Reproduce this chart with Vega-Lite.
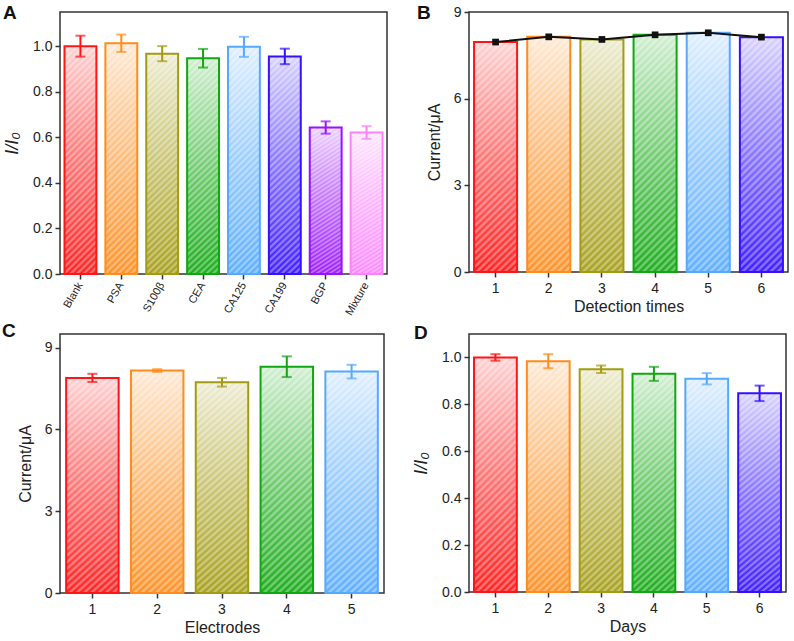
{
  "$schema": "https://vega.github.io/schema/vega-lite/v6.json",
  "padding": {"left": 1, "top": 2, "right": 2, "bottom": 2},
  "background": "white",
  "bounds": "flush",
  "columns": 2,
  "spacing": {"row": 60, "column": 82},
  "config": {
    "font": "Liberation Sans",
    "view": {"stroke": "#333", "strokeWidth": 1.5},
    "axis": {"labelFont": "Liberation Sans", "labelFontSize": 14, "labelColor": "#222", "titleFont": "Liberation Sans", "titleFontSize": 16, "titleFontWeight": "normal", "titleColor": "#222", "tickColor": "#333", "tickWidth": 1.5, "tickSize": 5, "domain": false, "grid": false, "labelPadding": 3},
    "axisX": {"titlePadding": 3, "labelPadding": 4},
    "axisY": {"titlePadding": 11},
    "title": {"anchor": "start", "frame": "group", "fontSize": 19, "fontWeight": "bold", "font": "Liberation Sans", "color": "#111", "baseline": "alphabetic"}
  },
  "datasets": {
    "A": [
      {"k": "Blank", "v": 1.0, "e": 0.046},
      {"k": "PSA", "v": 1.013, "e": 0.038},
      {"k": "S100β", "v": 0.967, "e": 0.033},
      {"k": "CEA", "v": 0.947, "e": 0.041},
      {"k": "CA125", "v": 0.997, "e": 0.044},
      {"k": "CA199", "v": 0.955, "e": 0.034},
      {"k": "BGP", "v": 0.643, "e": 0.027},
      {"k": "Mixture", "v": 0.621, "e": 0.028}
    ],
    "B": [
      {"k": "1", "v": 7.96},
      {"k": "2", "v": 8.14},
      {"k": "3", "v": 8.05},
      {"k": "4", "v": 8.21},
      {"k": "5", "v": 8.28},
      {"k": "6", "v": 8.13}
    ],
    "C": [
      {"k": "1", "v": 7.89, "e": 0.15},
      {"k": "2", "v": 8.16, "e": 0.05},
      {"k": "3", "v": 7.73, "e": 0.16},
      {"k": "4", "v": 8.3, "e": 0.38},
      {"k": "5", "v": 8.12, "e": 0.25}
    ],
    "D": [
      {"k": "1", "v": 1.0, "e": 0.014},
      {"k": "2", "v": 0.984, "e": 0.03},
      {"k": "3", "v": 0.95, "e": 0.016},
      {"k": "4", "v": 0.93, "e": 0.03},
      {"k": "5", "v": 0.909, "e": 0.024},
      {"k": "6", "v": 0.847, "e": 0.033}
    ]
  },
  "concat": [
    {
      "width": 327, "height": 262,
      "title": {"text": "A", "dx": -57, "offset": -10.5},
      "data": {"name": "A"},
      "encoding": {
        "x": {"field": "k", "type": "nominal", "sort": null, "scale": {"paddingInner": 0.22, "paddingOuter": 0.11}, "axis": {"title": null, "labelAngle": -60, "labelFontSize": 11, "labelAlign": "right", "labelBaseline": "middle", "bandPosition": 0.5}},
        "y": {"field": "v", "type": "quantitative", "scale": {"domain": [0, 1.15], "nice": false}, "axis": {"title": "I/I₀", "titleFontStyle": "italic", "titleFontSize": 18, "values": [0, 0.2, 0.4, 0.6, 0.8, 1.0], "format": ".1f"}}
      },
      "layer": [
        {"mark": {"type": "bar"}, "encoding": {"color": {"field": "k", "type": "nominal", "sort": null, "scale": {"domain": ["Blank", "PSA", "S100β", "CEA", "CA125", "CA199", "BGP", "Mixture"], "range": ["#FF1515", "#FF8C1C", "#A39B12", "#10A810", "#55AAFF", "#3311FF", "#9911FF", "#FF80FF"]}, "legend": null}}},
        {"mark": {"type": "bar", "fill": {"gradient": "linear", "x1": 0, "y1": 1, "x2": 0, "y2": 0, "stops": [{"offset": 0, "color": "rgba(255,255,255,0)"}, {"offset": 0.5, "color": "rgba(255,255,255,0.38)"}, {"offset": 1, "color": "rgba(255,255,255,0.8)"}]}}},
        {"mark": {"type": "bar", "fill": {"gradient": "linear", "x1": 0, "y1": 0, "x2": 0.157, "y2": 1.118, "stops": [
        {"offset":0,"color":"rgba(255,255,255,0.45)"},{"offset":0.0125,"color":"rgba(255,255,255,0)"},{"offset":0.025,"color":"rgba(255,255,255,0.45)"},{"offset":0.0375,"color":"rgba(255,255,255,0)"},{"offset":0.05,"color":"rgba(255,255,255,0.45)"},{"offset":0.0625,"color":"rgba(255,255,255,0)"},{"offset":0.075,"color":"rgba(255,255,255,0.45)"},{"offset":0.0875,"color":"rgba(255,255,255,0)"},{"offset":0.1,"color":"rgba(255,255,255,0.45)"},{"offset":0.1125,"color":"rgba(255,255,255,0)"},{"offset":0.125,"color":"rgba(255,255,255,0.45)"},{"offset":0.1375,"color":"rgba(255,255,255,0)"},{"offset":0.15,"color":"rgba(255,255,255,0.45)"},{"offset":0.1625,"color":"rgba(255,255,255,0)"},{"offset":0.175,"color":"rgba(255,255,255,0.45)"},{"offset":0.1875,"color":"rgba(255,255,255,0)"},{"offset":0.2,"color":"rgba(255,255,255,0.45)"},{"offset":0.2125,"color":"rgba(255,255,255,0)"},{"offset":0.225,"color":"rgba(255,255,255,0.45)"},{"offset":0.2375,"color":"rgba(255,255,255,0)"},{"offset":0.25,"color":"rgba(255,255,255,0.45)"},{"offset":0.2625,"color":"rgba(255,255,255,0)"},{"offset":0.275,"color":"rgba(255,255,255,0.45)"},{"offset":0.2875,"color":"rgba(255,255,255,0)"},{"offset":0.3,"color":"rgba(255,255,255,0.45)"},{"offset":0.3125,"color":"rgba(255,255,255,0)"},{"offset":0.325,"color":"rgba(255,255,255,0.45)"},{"offset":0.3375,"color":"rgba(255,255,255,0)"},{"offset":0.35,"color":"rgba(255,255,255,0.45)"},{"offset":0.3625,"color":"rgba(255,255,255,0)"},{"offset":0.375,"color":"rgba(255,255,255,0.45)"},{"offset":0.3875,"color":"rgba(255,255,255,0)"},{"offset":0.4,"color":"rgba(255,255,255,0.45)"},{"offset":0.4125,"color":"rgba(255,255,255,0)"},{"offset":0.425,"color":"rgba(255,255,255,0.45)"},{"offset":0.4375,"color":"rgba(255,255,255,0)"},{"offset":0.45,"color":"rgba(255,255,255,0.45)"},{"offset":0.4625,"color":"rgba(255,255,255,0)"},{"offset":0.475,"color":"rgba(255,255,255,0.45)"},{"offset":0.4875,"color":"rgba(255,255,255,0)"},{"offset":0.5,"color":"rgba(255,255,255,0.45)"},{"offset":0.5125,"color":"rgba(255,255,255,0)"},{"offset":0.525,"color":"rgba(255,255,255,0.45)"},{"offset":0.5375,"color":"rgba(255,255,255,0)"},{"offset":0.55,"color":"rgba(255,255,255,0.45)"},{"offset":0.5625,"color":"rgba(255,255,255,0)"},{"offset":0.575,"color":"rgba(255,255,255,0.45)"},{"offset":0.5875,"color":"rgba(255,255,255,0)"},{"offset":0.6,"color":"rgba(255,255,255,0.45)"},{"offset":0.6125,"color":"rgba(255,255,255,0)"},{"offset":0.625,"color":"rgba(255,255,255,0.45)"},{"offset":0.6375,"color":"rgba(255,255,255,0)"},{"offset":0.65,"color":"rgba(255,255,255,0.45)"},{"offset":0.6625,"color":"rgba(255,255,255,0)"},{"offset":0.675,"color":"rgba(255,255,255,0.45)"},{"offset":0.6875,"color":"rgba(255,255,255,0)"},{"offset":0.7,"color":"rgba(255,255,255,0.45)"},{"offset":0.7125,"color":"rgba(255,255,255,0)"},{"offset":0.725,"color":"rgba(255,255,255,0.45)"},{"offset":0.7375,"color":"rgba(255,255,255,0)"},{"offset":0.75,"color":"rgba(255,255,255,0.45)"},{"offset":0.7625,"color":"rgba(255,255,255,0)"},{"offset":0.775,"color":"rgba(255,255,255,0.45)"},{"offset":0.7875,"color":"rgba(255,255,255,0)"},{"offset":0.8,"color":"rgba(255,255,255,0.45)"},{"offset":0.8125,"color":"rgba(255,255,255,0)"},{"offset":0.825,"color":"rgba(255,255,255,0.45)"},{"offset":0.8375,"color":"rgba(255,255,255,0)"},{"offset":0.85,"color":"rgba(255,255,255,0.45)"},{"offset":0.8625,"color":"rgba(255,255,255,0)"},{"offset":0.875,"color":"rgba(255,255,255,0.45)"},{"offset":0.8875,"color":"rgba(255,255,255,0)"},{"offset":0.9,"color":"rgba(255,255,255,0.45)"},{"offset":0.9125,"color":"rgba(255,255,255,0)"},{"offset":0.925,"color":"rgba(255,255,255,0.45)"},{"offset":0.9375,"color":"rgba(255,255,255,0)"},{"offset":0.95,"color":"rgba(255,255,255,0.45)"},{"offset":0.9625,"color":"rgba(255,255,255,0)"},{"offset":0.975,"color":"rgba(255,255,255,0.45)"},{"offset":0.9875,"color":"rgba(255,255,255,0)"},{"offset":1,"color":"rgba(255,255,255,0.45)"}
        ]}}},
        {"mark": {"type": "bar", "filled": false, "strokeWidth": 2}, "encoding": {"color": {"field": "k", "type": "nominal", "sort": null, "legend": null}}},
        {"mark": {"type": "errorbar", "ticks": true, "size": 10, "thickness": 2}, "encoding": {"yError": {"field": "e"}, "color": {"field": "k", "type": "nominal", "sort": null, "legend": null}}}
      ]
    },
    {
      "width": 319, "height": 260,
      "title": {"text": "B", "dx": -52, "offset": -18},
      "data": {"name": "B"},
      "encoding": {
        "x": {"field": "k", "type": "ordinal", "sort": null, "scale": {"paddingInner": 0.19, "paddingOuter": 0.095}, "axis": {"title": "Detection times", "labelAngle": 0, "bandPosition": 0.5}},
        "y": {"field": "v", "type": "quantitative", "scale": {"domain": [0, 9], "nice": false}, "axis": {"title": "Current/μA", "values": [0, 3, 6, 9]}}
      },
      "layer": [
        {"mark": {"type": "bar"}, "encoding": {"color": {"field": "k", "type": "ordinal", "sort": null, "scale": {"domain": ["1", "2", "3", "4", "5", "6"], "range": ["#FF1515", "#FF8C1C", "#A39B12", "#10A810", "#55AAFF", "#3311FF"]}, "legend": null}}},
        {"mark": {"type": "bar", "fill": {"gradient": "linear", "x1": 0, "y1": 1, "x2": 0, "y2": 0, "stops": [{"offset": 0, "color": "rgba(255,255,255,0)"}, {"offset": 0.5, "color": "rgba(255,255,255,0.38)"}, {"offset": 1, "color": "rgba(255,255,255,0.8)"}]}}},
        {"mark": {"type": "bar", "fill": {"gradient": "linear", "x1": 0, "y1": 0, "x2": 0.21, "y2": 1.15, "stops": [
        {"offset":0,"color":"rgba(255,255,255,0.45)"},{"offset":0.0125,"color":"rgba(255,255,255,0)"},{"offset":0.025,"color":"rgba(255,255,255,0.45)"},{"offset":0.0375,"color":"rgba(255,255,255,0)"},{"offset":0.05,"color":"rgba(255,255,255,0.45)"},{"offset":0.0625,"color":"rgba(255,255,255,0)"},{"offset":0.075,"color":"rgba(255,255,255,0.45)"},{"offset":0.0875,"color":"rgba(255,255,255,0)"},{"offset":0.1,"color":"rgba(255,255,255,0.45)"},{"offset":0.1125,"color":"rgba(255,255,255,0)"},{"offset":0.125,"color":"rgba(255,255,255,0.45)"},{"offset":0.1375,"color":"rgba(255,255,255,0)"},{"offset":0.15,"color":"rgba(255,255,255,0.45)"},{"offset":0.1625,"color":"rgba(255,255,255,0)"},{"offset":0.175,"color":"rgba(255,255,255,0.45)"},{"offset":0.1875,"color":"rgba(255,255,255,0)"},{"offset":0.2,"color":"rgba(255,255,255,0.45)"},{"offset":0.2125,"color":"rgba(255,255,255,0)"},{"offset":0.225,"color":"rgba(255,255,255,0.45)"},{"offset":0.2375,"color":"rgba(255,255,255,0)"},{"offset":0.25,"color":"rgba(255,255,255,0.45)"},{"offset":0.2625,"color":"rgba(255,255,255,0)"},{"offset":0.275,"color":"rgba(255,255,255,0.45)"},{"offset":0.2875,"color":"rgba(255,255,255,0)"},{"offset":0.3,"color":"rgba(255,255,255,0.45)"},{"offset":0.3125,"color":"rgba(255,255,255,0)"},{"offset":0.325,"color":"rgba(255,255,255,0.45)"},{"offset":0.3375,"color":"rgba(255,255,255,0)"},{"offset":0.35,"color":"rgba(255,255,255,0.45)"},{"offset":0.3625,"color":"rgba(255,255,255,0)"},{"offset":0.375,"color":"rgba(255,255,255,0.45)"},{"offset":0.3875,"color":"rgba(255,255,255,0)"},{"offset":0.4,"color":"rgba(255,255,255,0.45)"},{"offset":0.4125,"color":"rgba(255,255,255,0)"},{"offset":0.425,"color":"rgba(255,255,255,0.45)"},{"offset":0.4375,"color":"rgba(255,255,255,0)"},{"offset":0.45,"color":"rgba(255,255,255,0.45)"},{"offset":0.4625,"color":"rgba(255,255,255,0)"},{"offset":0.475,"color":"rgba(255,255,255,0.45)"},{"offset":0.4875,"color":"rgba(255,255,255,0)"},{"offset":0.5,"color":"rgba(255,255,255,0.45)"},{"offset":0.5125,"color":"rgba(255,255,255,0)"},{"offset":0.525,"color":"rgba(255,255,255,0.45)"},{"offset":0.5375,"color":"rgba(255,255,255,0)"},{"offset":0.55,"color":"rgba(255,255,255,0.45)"},{"offset":0.5625,"color":"rgba(255,255,255,0)"},{"offset":0.575,"color":"rgba(255,255,255,0.45)"},{"offset":0.5875,"color":"rgba(255,255,255,0)"},{"offset":0.6,"color":"rgba(255,255,255,0.45)"},{"offset":0.6125,"color":"rgba(255,255,255,0)"},{"offset":0.625,"color":"rgba(255,255,255,0.45)"},{"offset":0.6375,"color":"rgba(255,255,255,0)"},{"offset":0.65,"color":"rgba(255,255,255,0.45)"},{"offset":0.6625,"color":"rgba(255,255,255,0)"},{"offset":0.675,"color":"rgba(255,255,255,0.45)"},{"offset":0.6875,"color":"rgba(255,255,255,0)"},{"offset":0.7,"color":"rgba(255,255,255,0.45)"},{"offset":0.7125,"color":"rgba(255,255,255,0)"},{"offset":0.725,"color":"rgba(255,255,255,0.45)"},{"offset":0.7375,"color":"rgba(255,255,255,0)"},{"offset":0.75,"color":"rgba(255,255,255,0.45)"},{"offset":0.7625,"color":"rgba(255,255,255,0)"},{"offset":0.775,"color":"rgba(255,255,255,0.45)"},{"offset":0.7875,"color":"rgba(255,255,255,0)"},{"offset":0.8,"color":"rgba(255,255,255,0.45)"},{"offset":0.8125,"color":"rgba(255,255,255,0)"},{"offset":0.825,"color":"rgba(255,255,255,0.45)"},{"offset":0.8375,"color":"rgba(255,255,255,0)"},{"offset":0.85,"color":"rgba(255,255,255,0.45)"},{"offset":0.8625,"color":"rgba(255,255,255,0)"},{"offset":0.875,"color":"rgba(255,255,255,0.45)"},{"offset":0.8875,"color":"rgba(255,255,255,0)"},{"offset":0.9,"color":"rgba(255,255,255,0.45)"},{"offset":0.9125,"color":"rgba(255,255,255,0)"},{"offset":0.925,"color":"rgba(255,255,255,0.45)"},{"offset":0.9375,"color":"rgba(255,255,255,0)"},{"offset":0.95,"color":"rgba(255,255,255,0.45)"},{"offset":0.9625,"color":"rgba(255,255,255,0)"},{"offset":0.975,"color":"rgba(255,255,255,0.45)"},{"offset":0.9875,"color":"rgba(255,255,255,0)"},{"offset":1,"color":"rgba(255,255,255,0.45)"}
        ]}}},
        {"mark": {"type": "bar", "filled": false, "strokeWidth": 2}, "encoding": {"color": {"field": "k", "type": "ordinal", "sort": null, "legend": null}}},
        {"mark": {"type": "line", "color": "#111", "strokeWidth": 2}},
        {"mark": {"type": "point", "shape": "square", "filled": true, "color": "#111", "size": 45, "opacity": 1}}
      ]
    },
    {
      "width": 324, "height": 259,
      "title": {"text": "C", "dx": -58, "offset": -7},
      "data": {"name": "C"},
      "encoding": {
        "x": {"field": "k", "type": "ordinal", "sort": null, "scale": {"paddingInner": 0.19, "paddingOuter": 0.095}, "axis": {"title": "Electrodes", "labelAngle": 0, "bandPosition": 0.5}},
        "y": {"field": "v", "type": "quantitative", "scale": {"domain": [0, 9.5], "nice": false}, "axis": {"title": "Current/μA", "values": [0, 3, 6, 9]}}
      },
      "layer": [
        {"mark": {"type": "bar"}, "encoding": {"color": {"field": "k", "type": "ordinal", "sort": null, "scale": {"domain": ["1", "2", "3", "4", "5"], "range": ["#FF1515", "#FF8C1C", "#A39B12", "#10A810", "#55AAFF"]}, "legend": null}}},
        {"mark": {"type": "bar", "fill": {"gradient": "linear", "x1": 0, "y1": 1, "x2": 0, "y2": 0, "stops": [{"offset": 0, "color": "rgba(255,255,255,0)"}, {"offset": 0.5, "color": "rgba(255,255,255,0.38)"}, {"offset": 1, "color": "rgba(255,255,255,0.8)"}]}}},
        {"mark": {"type": "bar", "fill": {"gradient": "linear", "x1": 0, "y1": 0, "x2": 0.26, "y2": 1.17, "stops": [
        {"offset":0,"color":"rgba(255,255,255,0.45)"},{"offset":0.0125,"color":"rgba(255,255,255,0)"},{"offset":0.025,"color":"rgba(255,255,255,0.45)"},{"offset":0.0375,"color":"rgba(255,255,255,0)"},{"offset":0.05,"color":"rgba(255,255,255,0.45)"},{"offset":0.0625,"color":"rgba(255,255,255,0)"},{"offset":0.075,"color":"rgba(255,255,255,0.45)"},{"offset":0.0875,"color":"rgba(255,255,255,0)"},{"offset":0.1,"color":"rgba(255,255,255,0.45)"},{"offset":0.1125,"color":"rgba(255,255,255,0)"},{"offset":0.125,"color":"rgba(255,255,255,0.45)"},{"offset":0.1375,"color":"rgba(255,255,255,0)"},{"offset":0.15,"color":"rgba(255,255,255,0.45)"},{"offset":0.1625,"color":"rgba(255,255,255,0)"},{"offset":0.175,"color":"rgba(255,255,255,0.45)"},{"offset":0.1875,"color":"rgba(255,255,255,0)"},{"offset":0.2,"color":"rgba(255,255,255,0.45)"},{"offset":0.2125,"color":"rgba(255,255,255,0)"},{"offset":0.225,"color":"rgba(255,255,255,0.45)"},{"offset":0.2375,"color":"rgba(255,255,255,0)"},{"offset":0.25,"color":"rgba(255,255,255,0.45)"},{"offset":0.2625,"color":"rgba(255,255,255,0)"},{"offset":0.275,"color":"rgba(255,255,255,0.45)"},{"offset":0.2875,"color":"rgba(255,255,255,0)"},{"offset":0.3,"color":"rgba(255,255,255,0.45)"},{"offset":0.3125,"color":"rgba(255,255,255,0)"},{"offset":0.325,"color":"rgba(255,255,255,0.45)"},{"offset":0.3375,"color":"rgba(255,255,255,0)"},{"offset":0.35,"color":"rgba(255,255,255,0.45)"},{"offset":0.3625,"color":"rgba(255,255,255,0)"},{"offset":0.375,"color":"rgba(255,255,255,0.45)"},{"offset":0.3875,"color":"rgba(255,255,255,0)"},{"offset":0.4,"color":"rgba(255,255,255,0.45)"},{"offset":0.4125,"color":"rgba(255,255,255,0)"},{"offset":0.425,"color":"rgba(255,255,255,0.45)"},{"offset":0.4375,"color":"rgba(255,255,255,0)"},{"offset":0.45,"color":"rgba(255,255,255,0.45)"},{"offset":0.4625,"color":"rgba(255,255,255,0)"},{"offset":0.475,"color":"rgba(255,255,255,0.45)"},{"offset":0.4875,"color":"rgba(255,255,255,0)"},{"offset":0.5,"color":"rgba(255,255,255,0.45)"},{"offset":0.5125,"color":"rgba(255,255,255,0)"},{"offset":0.525,"color":"rgba(255,255,255,0.45)"},{"offset":0.5375,"color":"rgba(255,255,255,0)"},{"offset":0.55,"color":"rgba(255,255,255,0.45)"},{"offset":0.5625,"color":"rgba(255,255,255,0)"},{"offset":0.575,"color":"rgba(255,255,255,0.45)"},{"offset":0.5875,"color":"rgba(255,255,255,0)"},{"offset":0.6,"color":"rgba(255,255,255,0.45)"},{"offset":0.6125,"color":"rgba(255,255,255,0)"},{"offset":0.625,"color":"rgba(255,255,255,0.45)"},{"offset":0.6375,"color":"rgba(255,255,255,0)"},{"offset":0.65,"color":"rgba(255,255,255,0.45)"},{"offset":0.6625,"color":"rgba(255,255,255,0)"},{"offset":0.675,"color":"rgba(255,255,255,0.45)"},{"offset":0.6875,"color":"rgba(255,255,255,0)"},{"offset":0.7,"color":"rgba(255,255,255,0.45)"},{"offset":0.7125,"color":"rgba(255,255,255,0)"},{"offset":0.725,"color":"rgba(255,255,255,0.45)"},{"offset":0.7375,"color":"rgba(255,255,255,0)"},{"offset":0.75,"color":"rgba(255,255,255,0.45)"},{"offset":0.7625,"color":"rgba(255,255,255,0)"},{"offset":0.775,"color":"rgba(255,255,255,0.45)"},{"offset":0.7875,"color":"rgba(255,255,255,0)"},{"offset":0.8,"color":"rgba(255,255,255,0.45)"},{"offset":0.8125,"color":"rgba(255,255,255,0)"},{"offset":0.825,"color":"rgba(255,255,255,0.45)"},{"offset":0.8375,"color":"rgba(255,255,255,0)"},{"offset":0.85,"color":"rgba(255,255,255,0.45)"},{"offset":0.8625,"color":"rgba(255,255,255,0)"},{"offset":0.875,"color":"rgba(255,255,255,0.45)"},{"offset":0.8875,"color":"rgba(255,255,255,0)"},{"offset":0.9,"color":"rgba(255,255,255,0.45)"},{"offset":0.9125,"color":"rgba(255,255,255,0)"},{"offset":0.925,"color":"rgba(255,255,255,0.45)"},{"offset":0.9375,"color":"rgba(255,255,255,0)"},{"offset":0.95,"color":"rgba(255,255,255,0.45)"},{"offset":0.9625,"color":"rgba(255,255,255,0)"},{"offset":0.975,"color":"rgba(255,255,255,0.45)"},{"offset":0.9875,"color":"rgba(255,255,255,0)"},{"offset":1,"color":"rgba(255,255,255,0.45)"}
        ]}}},
        {"mark": {"type": "bar", "filled": false, "strokeWidth": 2}, "encoding": {"color": {"field": "k", "type": "ordinal", "sort": null, "legend": null}}},
        {"mark": {"type": "errorbar", "ticks": true, "size": 10, "thickness": 2}, "encoding": {"yError": {"field": "e"}, "color": {"field": "k", "type": "ordinal", "sort": null, "legend": null}}}
      ]
    },
    {
      "width": 317, "height": 258,
      "title": {"text": "D", "dx": -55, "offset": -9},
      "data": {"name": "D"},
      "encoding": {
        "x": {"field": "k", "type": "ordinal", "sort": null, "scale": {"paddingInner": 0.19, "paddingOuter": 0.095}, "axis": {"title": "Days", "labelAngle": 0, "bandPosition": 0.5}},
        "y": {"field": "v", "type": "quantitative", "scale": {"domain": [0, 1.1], "nice": false}, "axis": {"title": "I/I₀", "titleFontStyle": "italic", "titleFontSize": 18, "values": [0, 0.2, 0.4, 0.6, 0.8, 1.0], "format": ".1f"}}
      },
      "layer": [
        {"mark": {"type": "bar"}, "encoding": {"color": {"field": "k", "type": "ordinal", "sort": null, "scale": {"domain": ["1", "2", "3", "4", "5", "6"], "range": ["#FF1515", "#FF8C1C", "#A39B12", "#10A810", "#55AAFF", "#3311FF"]}, "legend": null}}},
        {"mark": {"type": "bar", "fill": {"gradient": "linear", "x1": 0, "y1": 1, "x2": 0, "y2": 0, "stops": [{"offset": 0, "color": "rgba(255,255,255,0)"}, {"offset": 0.5, "color": "rgba(255,255,255,0.38)"}, {"offset": 1, "color": "rgba(255,255,255,0.8)"}]}}},
        {"mark": {"type": "bar", "fill": {"gradient": "linear", "x1": 0, "y1": 0, "x2": 0.21, "y2": 1.15, "stops": [
        {"offset":0,"color":"rgba(255,255,255,0.45)"},{"offset":0.0125,"color":"rgba(255,255,255,0)"},{"offset":0.025,"color":"rgba(255,255,255,0.45)"},{"offset":0.0375,"color":"rgba(255,255,255,0)"},{"offset":0.05,"color":"rgba(255,255,255,0.45)"},{"offset":0.0625,"color":"rgba(255,255,255,0)"},{"offset":0.075,"color":"rgba(255,255,255,0.45)"},{"offset":0.0875,"color":"rgba(255,255,255,0)"},{"offset":0.1,"color":"rgba(255,255,255,0.45)"},{"offset":0.1125,"color":"rgba(255,255,255,0)"},{"offset":0.125,"color":"rgba(255,255,255,0.45)"},{"offset":0.1375,"color":"rgba(255,255,255,0)"},{"offset":0.15,"color":"rgba(255,255,255,0.45)"},{"offset":0.1625,"color":"rgba(255,255,255,0)"},{"offset":0.175,"color":"rgba(255,255,255,0.45)"},{"offset":0.1875,"color":"rgba(255,255,255,0)"},{"offset":0.2,"color":"rgba(255,255,255,0.45)"},{"offset":0.2125,"color":"rgba(255,255,255,0)"},{"offset":0.225,"color":"rgba(255,255,255,0.45)"},{"offset":0.2375,"color":"rgba(255,255,255,0)"},{"offset":0.25,"color":"rgba(255,255,255,0.45)"},{"offset":0.2625,"color":"rgba(255,255,255,0)"},{"offset":0.275,"color":"rgba(255,255,255,0.45)"},{"offset":0.2875,"color":"rgba(255,255,255,0)"},{"offset":0.3,"color":"rgba(255,255,255,0.45)"},{"offset":0.3125,"color":"rgba(255,255,255,0)"},{"offset":0.325,"color":"rgba(255,255,255,0.45)"},{"offset":0.3375,"color":"rgba(255,255,255,0)"},{"offset":0.35,"color":"rgba(255,255,255,0.45)"},{"offset":0.3625,"color":"rgba(255,255,255,0)"},{"offset":0.375,"color":"rgba(255,255,255,0.45)"},{"offset":0.3875,"color":"rgba(255,255,255,0)"},{"offset":0.4,"color":"rgba(255,255,255,0.45)"},{"offset":0.4125,"color":"rgba(255,255,255,0)"},{"offset":0.425,"color":"rgba(255,255,255,0.45)"},{"offset":0.4375,"color":"rgba(255,255,255,0)"},{"offset":0.45,"color":"rgba(255,255,255,0.45)"},{"offset":0.4625,"color":"rgba(255,255,255,0)"},{"offset":0.475,"color":"rgba(255,255,255,0.45)"},{"offset":0.4875,"color":"rgba(255,255,255,0)"},{"offset":0.5,"color":"rgba(255,255,255,0.45)"},{"offset":0.5125,"color":"rgba(255,255,255,0)"},{"offset":0.525,"color":"rgba(255,255,255,0.45)"},{"offset":0.5375,"color":"rgba(255,255,255,0)"},{"offset":0.55,"color":"rgba(255,255,255,0.45)"},{"offset":0.5625,"color":"rgba(255,255,255,0)"},{"offset":0.575,"color":"rgba(255,255,255,0.45)"},{"offset":0.5875,"color":"rgba(255,255,255,0)"},{"offset":0.6,"color":"rgba(255,255,255,0.45)"},{"offset":0.6125,"color":"rgba(255,255,255,0)"},{"offset":0.625,"color":"rgba(255,255,255,0.45)"},{"offset":0.6375,"color":"rgba(255,255,255,0)"},{"offset":0.65,"color":"rgba(255,255,255,0.45)"},{"offset":0.6625,"color":"rgba(255,255,255,0)"},{"offset":0.675,"color":"rgba(255,255,255,0.45)"},{"offset":0.6875,"color":"rgba(255,255,255,0)"},{"offset":0.7,"color":"rgba(255,255,255,0.45)"},{"offset":0.7125,"color":"rgba(255,255,255,0)"},{"offset":0.725,"color":"rgba(255,255,255,0.45)"},{"offset":0.7375,"color":"rgba(255,255,255,0)"},{"offset":0.75,"color":"rgba(255,255,255,0.45)"},{"offset":0.7625,"color":"rgba(255,255,255,0)"},{"offset":0.775,"color":"rgba(255,255,255,0.45)"},{"offset":0.7875,"color":"rgba(255,255,255,0)"},{"offset":0.8,"color":"rgba(255,255,255,0.45)"},{"offset":0.8125,"color":"rgba(255,255,255,0)"},{"offset":0.825,"color":"rgba(255,255,255,0.45)"},{"offset":0.8375,"color":"rgba(255,255,255,0)"},{"offset":0.85,"color":"rgba(255,255,255,0.45)"},{"offset":0.8625,"color":"rgba(255,255,255,0)"},{"offset":0.875,"color":"rgba(255,255,255,0.45)"},{"offset":0.8875,"color":"rgba(255,255,255,0)"},{"offset":0.9,"color":"rgba(255,255,255,0.45)"},{"offset":0.9125,"color":"rgba(255,255,255,0)"},{"offset":0.925,"color":"rgba(255,255,255,0.45)"},{"offset":0.9375,"color":"rgba(255,255,255,0)"},{"offset":0.95,"color":"rgba(255,255,255,0.45)"},{"offset":0.9625,"color":"rgba(255,255,255,0)"},{"offset":0.975,"color":"rgba(255,255,255,0.45)"},{"offset":0.9875,"color":"rgba(255,255,255,0)"},{"offset":1,"color":"rgba(255,255,255,0.45)"}
        ]}}},
        {"mark": {"type": "bar", "filled": false, "strokeWidth": 2}, "encoding": {"color": {"field": "k", "type": "ordinal", "sort": null, "legend": null}}},
        {"mark": {"type": "errorbar", "ticks": true, "size": 10, "thickness": 2}, "encoding": {"yError": {"field": "e"}, "color": {"field": "k", "type": "ordinal", "sort": null, "legend": null}}}
      ]
    }
  ]
}
